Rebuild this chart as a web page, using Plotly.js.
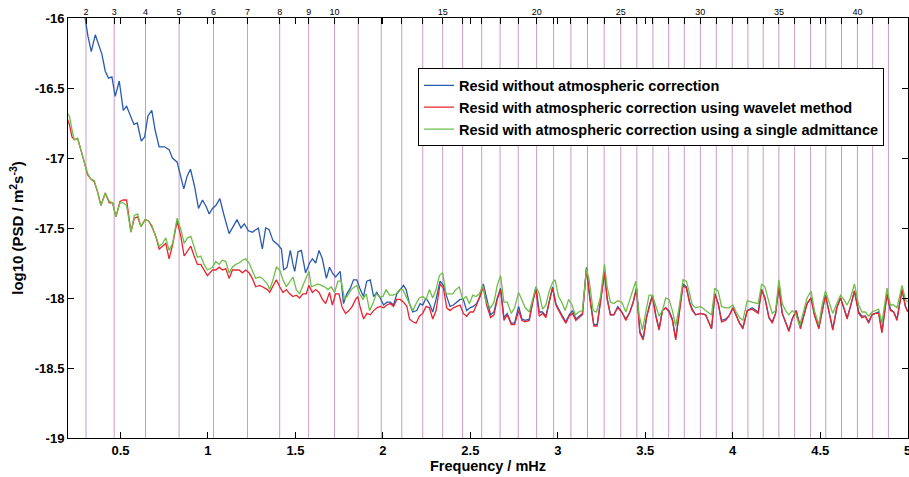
<!DOCTYPE html>
<html>
<head>
<meta charset="utf-8">
<script src="https://cdn.plot.ly/plotly-3.0.1.min.js"></script>
<style>html,body{margin:0;padding:0;background:#fff;}#chart{width:909px;height:477px;}</style>
</head>
<body>
<div id="chart"></div>
<script>
// Spherical-harmonic degree mode frequencies (mHz) and their top-axis labels
const modeFreqs = [0.303,0.464,0.643,0.835,1.032,1.226,1.410,1.576,1.724,1.859,1.991,2.108,2.228,2.342,2.456,2.565,2.670,2.774,2.879,2.976,3.075,3.170,3.265,3.360,3.452,3.544,3.634,3.723,3.815,3.906,3.997,4.087,4.174,4.264,4.354,4.445,4.532,4.622,4.713,4.800,4.890];
const modeLabels = ['2','3','4','5','6','7','8','9','10','','','','','15','','','','','20','','','','','25','','','','','30','','','','','35','','','','','40','',''];

const xTickVals = [0.5,1,1.5,2,2.5,3,3.5,4,4.5,5];
const xTickText = ['0.5','1','1.5','2','2.5','3','3.5','4','4.5','5'];
const yTickVals = [-19,-18.5,-18,-17.5,-17,-16.5,-16];
const yTickText = ['-19','-18.5','-18','-17.5','-17','-16.5','-16'];

// Resid without atmospheric correction
const blueF = [0.20,0.26,0.299,0.314,0.333,0.356,0.379,0.394,0.413,0.432,0.451,0.470,0.493,0.516,0.535,0.558,0.577,0.596,0.619,0.638,0.657,0.679,0.698,0.721,0.752,0.778,0.797,0.824,0.839,0.862,0.881,0.900,0.923,0.946,0.969,0.991,1.007,1.026,1.045,1.068,1.090,1.121,1.144,1.166,1.189,1.208,1.231,1.254,1.288,1.311,1.330,1.349,1.372,1.400,1.420,1.433,1.452,1.471,1.486,1.496,1.515,1.534,1.558,1.581,1.597,1.616,1.635,1.654,1.677,1.695,1.711,1.730,1.756,1.775,1.794,1.814,1.832,1.851,1.871,1.889,1.908,1.928,1.947,1.965,1.985,2.004,2.023,2.042,2.061,2.080,2.099,2.118,2.133,2.152,2.171,2.194,2.213,2.228,2.247,2.266,2.285,2.304,2.327,2.346,2.365,2.384,2.403,2.422,2.441,2.460,2.479,2.498,2.517,2.536,2.556,2.574,2.593,2.616,2.635,2.654,2.673,2.692,2.711,2.734,2.753,2.776,2.795,2.814,2.837,2.856,2.875,2.894,2.913,2.932,2.951,2.970,2.989,3.008,3.027,3.046,3.065,3.084,3.103,3.122,3.141,3.164,3.183,3.206,3.225,3.244,3.267,3.282,3.301,3.320,3.343,3.366,3.389,3.412,3.431,3.450,3.469,3.488,3.507,3.526,3.541,3.560,3.579,3.598,3.617,3.636,3.655,3.674,3.693,3.716,3.735,3.754,3.769,3.788,3.817,3.845,3.879,3.898,3.917,3.936,3.959,3.978,4.001,4.020,4.039,4.058,4.083,4.111,4.146,4.165,4.184,4.207,4.226,4.245,4.264,4.283,4.302,4.321,4.340,4.363,4.387,4.406,4.425,4.448,4.467,4.492,4.511,4.530,4.549,4.572,4.595,4.616,4.635,4.654,4.673,4.696,4.720,4.739,4.758,4.777,4.796,4.815,4.834,4.853,4.882,4.901,4.920,4.939,4.968,4.987,5.000];
const blueV = [-15.50,-15.80,-16.01,-16.13,-16.24,-16.12,-16.20,-16.26,-16.38,-16.43,-16.42,-16.56,-16.45,-16.66,-16.63,-16.70,-16.76,-16.75,-16.88,-16.85,-16.70,-16.66,-16.80,-16.92,-16.92,-16.94,-17.00,-17.03,-17.11,-17.22,-17.13,-17.08,-17.20,-17.36,-17.30,-17.35,-17.40,-17.36,-17.34,-17.29,-17.40,-17.54,-17.49,-17.44,-17.50,-17.47,-17.52,-17.53,-17.50,-17.65,-17.50,-17.51,-17.59,-17.62,-17.65,-17.80,-17.78,-17.66,-17.76,-17.81,-17.67,-17.66,-17.82,-17.75,-17.72,-17.75,-17.66,-17.72,-17.86,-17.78,-17.82,-17.85,-17.81,-18.04,-17.97,-17.93,-17.87,-17.87,-17.94,-17.99,-17.88,-17.87,-17.99,-17.96,-18.00,-18.05,-18.03,-18.03,-18.05,-17.97,-17.94,-17.91,-17.94,-18.04,-18.10,-18.09,-18.04,-18.05,-18.00,-18.04,-18.10,-18.01,-17.88,-17.91,-17.99,-18.06,-18.05,-18.03,-18.01,-18.01,-18.09,-18.07,-18.06,-18.04,-17.99,-17.90,-18.00,-18.12,-18.10,-18.00,-17.93,-18.14,-18.11,-18.18,-18.18,-18.06,-18.15,-18.16,-18.15,-18.02,-17.92,-18.10,-18.10,-18.13,-18.02,-17.92,-18.04,-18.09,-18.13,-18.17,-18.12,-18.09,-18.15,-18.13,-18.11,-17.78,-18.00,-18.19,-18.19,-18.02,-17.81,-18.00,-18.12,-18.12,-18.06,-18.10,-18.15,-18.10,-18.03,-17.93,-18.24,-18.29,-18.14,-18.04,-17.98,-18.12,-18.22,-18.09,-18.07,-18.09,-18.15,-18.29,-18.10,-17.90,-17.92,-18.03,-18.08,-18.12,-18.11,-18.12,-18.22,-17.97,-18.04,-18.16,-18.15,-18.13,-18.07,-18.13,-18.18,-18.21,-18.09,-18.07,-18.10,-17.94,-18.00,-18.14,-18.17,-18.11,-17.92,-18.11,-18.17,-18.23,-18.15,-18.09,-18.21,-18.13,-18.04,-18.00,-18.12,-18.21,-18.09,-17.98,-18.09,-18.22,-18.07,-18.00,-18.07,-18.14,-18.06,-17.95,-18.10,-18.13,-18.13,-18.17,-18.12,-18.11,-18.10,-18.24,-17.97,-18.08,-18.10,-18.15,-17.94,-18.06,-18.09];

// Resid with atmospheric correction using wavelet method
const redF = [0.189,0.208,0.223,0.236,0.255,0.274,0.293,0.312,0.331,0.350,0.369,0.388,0.413,0.436,0.455,0.474,0.497,0.516,0.535,0.560,0.579,0.598,0.617,0.641,0.661,0.679,0.702,0.721,0.741,0.759,0.778,0.798,0.824,0.845,0.864,0.883,0.902,0.921,0.940,0.959,0.978,0.997,1.026,1.045,1.064,1.083,1.102,1.121,1.140,1.159,1.178,1.197,1.216,1.235,1.254,1.273,1.296,1.311,1.340,1.353,1.372,1.391,1.410,1.429,1.448,1.467,1.486,1.505,1.524,1.543,1.562,1.577,1.597,1.616,1.635,1.654,1.673,1.695,1.711,1.730,1.749,1.768,1.787,1.806,1.825,1.844,1.857,1.871,1.890,1.909,1.928,1.947,1.966,1.985,2.004,2.023,2.042,2.061,2.080,2.099,2.118,2.137,2.152,2.171,2.190,2.209,2.228,2.247,2.266,2.285,2.304,2.327,2.346,2.365,2.384,2.403,2.422,2.441,2.460,2.479,2.498,2.517,2.536,2.555,2.574,2.593,2.616,2.635,2.654,2.673,2.692,2.711,2.734,2.753,2.776,2.795,2.814,2.837,2.856,2.875,2.894,2.913,2.932,2.951,2.970,2.989,3.008,3.027,3.046,3.065,3.084,3.103,3.122,3.141,3.164,3.183,3.206,3.225,3.244,3.267,3.282,3.301,3.320,3.343,3.366,3.389,3.412,3.431,3.450,3.469,3.488,3.507,3.526,3.541,3.560,3.579,3.598,3.617,3.636,3.655,3.674,3.693,3.716,3.735,3.754,3.769,3.788,3.817,3.845,3.879,3.898,3.917,3.936,3.959,3.978,4.001,4.020,4.039,4.058,4.083,4.111,4.146,4.165,4.184,4.207,4.226,4.245,4.264,4.283,4.302,4.321,4.340,4.363,4.387,4.406,4.425,4.448,4.467,4.492,4.511,4.530,4.549,4.572,4.595,4.616,4.635,4.654,4.673,4.696,4.720,4.739,4.758,4.777,4.796,4.815,4.834,4.853,4.882,4.901,4.920,4.939,4.968,4.987,5.000];
const redV = [-16.70,-16.76,-16.85,-16.87,-16.86,-16.94,-17.03,-17.12,-17.15,-17.17,-17.24,-17.34,-17.25,-17.32,-17.32,-17.42,-17.31,-17.30,-17.30,-17.53,-17.43,-17.42,-17.49,-17.44,-17.45,-17.49,-17.56,-17.65,-17.63,-17.61,-17.72,-17.62,-17.45,-17.56,-17.70,-17.66,-17.63,-17.70,-17.76,-17.76,-17.80,-17.84,-17.80,-17.80,-17.78,-17.80,-17.79,-17.86,-17.80,-17.80,-17.80,-17.82,-17.80,-17.82,-17.86,-17.92,-17.91,-17.92,-17.94,-17.96,-17.92,-17.87,-17.92,-17.96,-17.94,-17.97,-17.99,-17.98,-18.00,-17.97,-17.97,-17.91,-17.96,-17.94,-17.96,-18.01,-18.04,-17.96,-18.05,-17.97,-17.97,-18.07,-18.11,-18.09,-18.06,-18.01,-17.99,-18.07,-18.15,-18.11,-18.12,-18.09,-18.07,-18.06,-18.07,-18.05,-18.04,-18.06,-18.01,-18.01,-18.03,-18.06,-18.15,-18.17,-18.18,-18.13,-18.11,-18.06,-18.07,-18.15,-18.09,-17.90,-17.93,-18.07,-18.09,-18.07,-18.06,-18.05,-18.11,-18.13,-18.10,-18.10,-18.05,-17.99,-17.92,-18.05,-18.14,-18.12,-18.01,-17.94,-18.16,-18.12,-18.19,-18.19,-18.09,-18.16,-18.17,-18.16,-18.03,-17.94,-18.13,-18.11,-18.14,-18.03,-17.93,-18.05,-18.10,-18.14,-18.18,-18.13,-18.11,-18.16,-18.14,-18.12,-17.79,-18.00,-18.20,-18.20,-18.03,-17.82,-18.01,-18.12,-18.12,-18.07,-18.10,-18.16,-18.10,-18.03,-17.93,-18.25,-18.30,-18.14,-18.05,-17.99,-18.13,-18.23,-18.09,-18.07,-18.10,-18.16,-18.30,-18.11,-17.91,-17.93,-18.04,-18.09,-18.12,-18.11,-18.12,-18.22,-17.97,-18.04,-18.17,-18.16,-18.13,-18.07,-18.13,-18.18,-18.22,-18.09,-18.08,-18.11,-17.94,-18.00,-18.14,-18.18,-18.11,-17.92,-18.11,-18.17,-18.24,-18.15,-18.09,-18.22,-18.13,-18.04,-18.00,-18.12,-18.22,-18.09,-17.98,-18.09,-18.23,-18.07,-18.00,-18.07,-18.15,-18.06,-17.95,-18.11,-18.14,-18.13,-18.18,-18.12,-18.11,-18.11,-18.25,-17.97,-18.09,-18.10,-18.16,-17.94,-18.06,-18.10];

// Resid with atmospheric correction using a single admittance
const greenF = [0.189,0.208,0.223,0.236,0.255,0.274,0.293,0.312,0.331,0.350,0.369,0.388,0.413,0.436,0.455,0.474,0.497,0.516,0.535,0.560,0.579,0.598,0.617,0.641,0.661,0.679,0.702,0.721,0.741,0.759,0.778,0.798,0.824,0.845,0.864,0.883,0.902,0.921,0.940,0.959,0.978,0.997,1.026,1.045,1.064,1.083,1.102,1.121,1.140,1.159,1.178,1.197,1.216,1.235,1.254,1.273,1.296,1.311,1.340,1.353,1.372,1.391,1.410,1.429,1.448,1.467,1.486,1.505,1.524,1.543,1.562,1.577,1.591,1.610,1.629,1.648,1.667,1.686,1.705,1.724,1.743,1.762,1.781,1.800,1.819,1.838,1.851,1.867,1.886,1.905,1.924,1.943,1.962,1.981,2.000,2.019,2.038,2.057,2.076,2.095,2.114,2.133,2.152,2.171,2.190,2.209,2.228,2.247,2.266,2.285,2.304,2.323,2.342,2.361,2.380,2.399,2.418,2.437,2.456,2.476,2.495,2.514,2.533,2.552,2.571,2.590,2.616,2.635,2.654,2.673,2.692,2.711,2.734,2.753,2.776,2.795,2.814,2.837,2.856,2.875,2.894,2.913,2.932,2.951,2.970,2.985,3.004,3.023,3.042,3.062,3.081,3.100,3.119,3.141,3.164,3.179,3.202,3.221,3.244,3.267,3.282,3.301,3.320,3.343,3.366,3.389,3.412,3.431,3.446,3.465,3.484,3.503,3.522,3.541,3.560,3.579,3.598,3.617,3.636,3.655,3.674,3.693,3.716,3.735,3.754,3.769,3.788,3.817,3.845,3.879,3.898,3.917,3.936,3.959,3.978,4.001,4.020,4.039,4.058,4.083,4.111,4.146,4.165,4.184,4.207,4.226,4.245,4.264,4.283,4.302,4.321,4.340,4.359,4.382,4.406,4.425,4.448,4.467,4.492,4.511,4.530,4.549,4.572,4.595,4.616,4.635,4.654,4.673,4.696,4.720,4.739,4.758,4.777,4.796,4.815,4.834,4.853,4.882,4.901,4.920,4.939,4.968,4.987,5.000];
const greenV = [-16.67,-16.70,-16.80,-16.87,-16.86,-16.94,-17.03,-17.11,-17.15,-17.16,-17.24,-17.34,-17.25,-17.31,-17.32,-17.42,-17.32,-17.32,-17.34,-17.53,-17.41,-17.40,-17.49,-17.44,-17.45,-17.48,-17.56,-17.63,-17.61,-17.57,-17.66,-17.61,-17.43,-17.51,-17.61,-17.57,-17.56,-17.63,-17.71,-17.70,-17.76,-17.80,-17.78,-17.74,-17.76,-17.73,-17.74,-17.82,-17.78,-17.76,-17.75,-17.73,-17.72,-17.75,-17.80,-17.86,-17.85,-17.86,-17.90,-17.94,-17.87,-17.78,-17.80,-17.87,-17.92,-17.88,-17.85,-17.94,-17.97,-17.91,-17.86,-17.81,-17.92,-17.91,-17.90,-17.91,-17.92,-17.94,-17.92,-17.96,-17.88,-17.88,-18.01,-17.98,-17.94,-17.92,-17.91,-17.97,-18.01,-17.97,-18.09,-18.04,-17.97,-17.99,-17.99,-17.94,-17.98,-17.98,-17.97,-17.94,-17.94,-17.99,-18.04,-18.09,-18.04,-18.00,-17.99,-18.01,-17.94,-18.00,-17.94,-17.84,-17.82,-17.97,-17.97,-17.97,-17.94,-17.92,-18.01,-17.99,-18.04,-17.98,-17.99,-17.97,-17.91,-18.03,-18.07,-18.03,-17.91,-17.84,-18.03,-18.03,-18.11,-18.07,-17.96,-18.01,-18.07,-18.10,-18.00,-17.92,-17.97,-18.08,-18.05,-17.95,-17.89,-17.87,-17.99,-18.03,-18.09,-18.01,-18.05,-18.12,-18.10,-18.09,-17.79,-17.87,-18.09,-18.10,-17.99,-17.76,-17.92,-18.03,-18.04,-18.02,-18.03,-18.10,-18.01,-17.94,-17.88,-18.12,-18.23,-18.10,-17.98,-17.98,-18.06,-18.13,-18.09,-18.00,-18.01,-18.09,-18.20,-18.07,-17.87,-17.88,-17.97,-18.05,-18.07,-18.06,-18.09,-18.12,-17.93,-17.95,-18.06,-18.07,-18.07,-18.05,-18.10,-18.14,-18.16,-18.02,-18.03,-18.04,-17.90,-17.92,-18.03,-18.11,-18.09,-17.87,-18.04,-18.09,-18.12,-18.09,-18.11,-18.20,-18.09,-18.00,-17.95,-18.09,-18.19,-18.05,-17.95,-18.03,-18.11,-18.04,-17.98,-18.01,-18.05,-18.00,-17.90,-18.05,-18.10,-18.10,-18.13,-18.10,-18.09,-18.08,-18.18,-17.93,-18.05,-18.05,-18.07,-17.91,-18.01,-18.03];

const seriesNames = ['Resid without atmospheric correction','Resid with atmospheric correction using wavelet method','Resid with atmospheric correction using a single admittance'];

const xRange = [0.2, 5.002];
const yRange = [-19, -16];

// labelled subset of the mode ticks
const labelFreqs = modeFreqs.filter((f, i) => modeLabels[i] !== '');
const labelTexts = modeLabels.filter(t => t !== '');

// vertical mode lines built from modeFreqs
const vx = [], vy = [];
modeFreqs.forEach(f => { vx.push(f, f, null); vy.push(yRange[0], yRange[1], null); });

const FONT = 'Liberation Sans, Arial, sans-serif';

const traces = [
  {x: vx, y: vy, mode: 'lines', line: {color: '#c99bc9', width: 1}, showlegend: false, hoverinfo: 'skip'},
  {x: blueF, y: blueV, name: seriesNames[0], mode: 'lines', line: {color: '#2a5aae', width: 1.3}},
  {x: redF, y: redV, name: seriesNames[1], mode: 'lines', line: {color: '#e8252e', width: 1.3}},
  {x: greenF, y: greenV, name: seriesNames[2], mode: 'lines', line: {color: '#6dbf47', width: 1.3}},
  {x: xRange, y: [-20, -20], xaxis: 'x2', mode: 'lines', line: {width: 0}, showlegend: false, hoverinfo: 'skip'},
  {x: xRange, y: [-20, -20], xaxis: 'x3', mode: 'lines', line: {width: 0}, showlegend: false, hoverinfo: 'skip'}
];

const layout = {
  width: 909, height: 477,
  margin: {l: 68, r: 1, t: 18, b: 39, pad: 0},
  paper_bgcolor: '#fff', plot_bgcolor: '#fff',
  font: {family: FONT, color: '#000'},
  showlegend: true,
  legend: {
    x: 0.4167, y: 0.88, xanchor: 'left', yanchor: 'top',
    bgcolor: '#fff', bordercolor: '#000', borderwidth: 1,
    font: {family: FONT, size: 14.5, weight: 'bold', color: '#000'},
    itemwidth: 30, tracegroupgap: 0
  },
  xaxis: {
    range: xRange, tickmode: 'array', tickvals: xTickVals, ticktext: xTickText,
    ticks: 'inside', ticklen: 6, tickcolor: '#000', tickwidth: 1,
    showline: true, linecolor: '#000', linewidth: 1, mirror: 'ticks',
    showgrid: false, zeroline: false, ticklabeloverflow: 'allow',
    tickfont: {family: FONT, size: 13, weight: 'bold', color: '#000'},
    title: {text: 'Frequency / mHz', font: {family: FONT, size: 14.5, weight: 'bold', color: '#000'}, standoff: 4}
  },
  xaxis2: {
    range: xRange, overlaying: 'x', side: 'top', anchor: 'y',
    tickmode: 'array', tickvals: modeFreqs,
    ticks: 'inside', ticklen: 6, tickcolor: '#000', showticklabels: false,
    showline: false, showgrid: false, zeroline: false
  },
  xaxis3: {
    range: xRange, overlaying: 'x', side: 'top', anchor: 'y',
    tickmode: 'array', tickvals: labelFreqs, ticktext: labelTexts,
    ticks: '', showline: false, showgrid: false, zeroline: false,
    tickfont: {family: FONT, size: 9, color: '#000'}
  },
  yaxis: {
    range: yRange, tickmode: 'array', tickvals: yTickVals, ticktext: yTickText,
    ticks: 'inside', ticklen: 6, tickcolor: '#000', tickwidth: 1,
    showline: true, linecolor: '#000', linewidth: 1, mirror: 'ticks',
    showgrid: false, zeroline: false,
    tickfont: {family: FONT, size: 13, weight: 'bold', color: '#000'},
    title: {text: 'log10 (PSD / m<sup>2</sup>s<sup>-3</sup>)', font: {family: FONT, size: 15, weight: 'bold', color: '#000'}, standoff: 7}
  }
};

Plotly.newPlot('chart', traces, layout, {staticPlot: true, displayModeBar: false});
</script>
</body>
</html>
